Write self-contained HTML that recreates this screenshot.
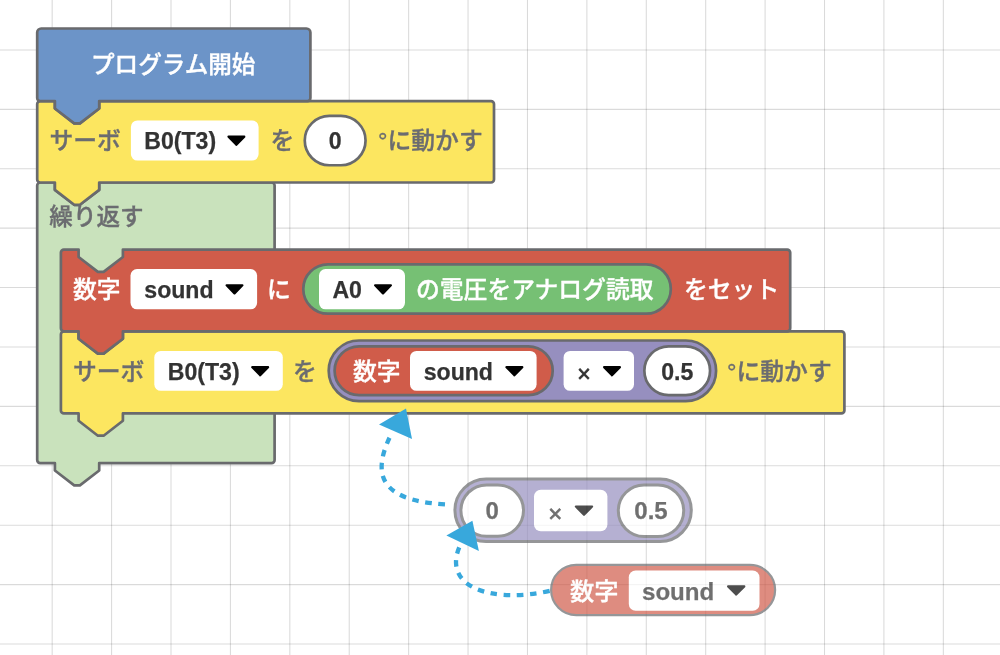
<!DOCTYPE html>
<html lang="ja"><head><meta charset="utf-8"><title>blocks</title>
<style>
html,body{margin:0;padding:0;background:#fff;}
body{width:1000px;height:655px;overflow:hidden;}
svg{display:block;font-family:"Liberation Sans","Noto Sans CJK JP",sans-serif;will-change:transform;opacity:0.9999;}
</style></head><body>
<svg width="1000" height="655" viewBox="0 0 1000 655">
<g stroke="#000" stroke-opacity="0.15" stroke-width="1.1">
<line x1="52.18" y1="0" x2="52.18" y2="655"/>
<line x1="111.59" y1="0" x2="111.59" y2="655"/>
<line x1="171.00" y1="0" x2="171.00" y2="655"/>
<line x1="230.41" y1="0" x2="230.41" y2="655"/>
<line x1="289.82" y1="0" x2="289.82" y2="655"/>
<line x1="349.23" y1="0" x2="349.23" y2="655"/>
<line x1="408.64" y1="0" x2="408.64" y2="655"/>
<line x1="468.05" y1="0" x2="468.05" y2="655"/>
<line x1="527.46" y1="0" x2="527.46" y2="655"/>
<line x1="586.87" y1="0" x2="586.87" y2="655"/>
<line x1="646.28" y1="0" x2="646.28" y2="655"/>
<line x1="705.69" y1="0" x2="705.69" y2="655"/>
<line x1="765.10" y1="0" x2="765.10" y2="655"/>
<line x1="824.51" y1="0" x2="824.51" y2="655"/>
<line x1="883.92" y1="0" x2="883.92" y2="655"/>
<line x1="943.33" y1="0" x2="943.33" y2="655"/>
<line x1="0" y1="49.93" x2="1000" y2="49.93"/>
<line x1="0" y1="109.34" x2="1000" y2="109.34"/>
<line x1="0" y1="168.75" x2="1000" y2="168.75"/>
<line x1="0" y1="228.16" x2="1000" y2="228.16"/>
<line x1="0" y1="287.57" x2="1000" y2="287.57"/>
<line x1="0" y1="346.98" x2="1000" y2="346.98"/>
<line x1="0" y1="406.39" x2="1000" y2="406.39"/>
<line x1="0" y1="465.80" x2="1000" y2="465.80"/>
<line x1="0" y1="525.21" x2="1000" y2="525.21"/>
<line x1="0" y1="584.62" x2="1000" y2="584.62"/>
<line x1="0" y1="644.03" x2="1000" y2="644.03"/>
</g>
<path d="M40.2 182.5 H54.900000000000006 V189.9 L74.2 204.8 H79.9 L99.2 189.9 V182.5 H271.6 A3 3 0 0 1 274.6 185.5 V460.1 A3 3 0 0 1 271.6 463.1 H99.2 V470.5 L79.9 485.40000000000003 H74.2 L54.900000000000006 470.5 V463.1 H40.2 A3 3 0 0 1 37.2 460.1 V185.5 A3 3 0 0 1 40.2 182.5 Z" fill="#c9e2bc" stroke="#696a6d" stroke-width="2.7" stroke-linejoin="round" />
<text x="49.3" y="224.8" font-size="23.6" font-weight="500" fill="#6b6c70" stroke="#6b6c70" stroke-width="0.35" stroke-linejoin="round" text-anchor="start" >繰り返す</text>
<path d="M40.2 101.1 H54.900000000000006 V108.5 L74.2 123.39999999999999 H79.9 L99.2 108.5 V101.1 H491 A3 3 0 0 1 494 104.1 V179.5 A3 3 0 0 1 491 182.5 H99.2 V189.9 L79.9 204.8 H74.2 L54.900000000000006 189.9 V182.5 H40.2 A3 3 0 0 1 37.2 179.5 V104.1 A3 3 0 0 1 40.2 101.1 Z" fill="#fce660" stroke="#696a6d" stroke-width="2.7" stroke-linejoin="round" />
<path d="M41.2 28.5 H306.4 A4 4 0 0 1 310.4 32.5 V98.1 A3 3 0 0 1 307.4 101.1 H99.2 V108.5 L79.9 123.39999999999999 H74.2 L54.900000000000006 108.5 V101.1 H40.2 A3 3 0 0 1 37.2 98.1 V32.5 A4 4 0 0 1 41.2 28.5 Z" fill="#6c94c8" stroke="#696a6d" stroke-width="2.7" stroke-linejoin="round" />
<text x="173.2" y="73.2" font-size="23.6" font-weight="500" fill="#fff" stroke="#fff" stroke-width="0.35" stroke-linejoin="round" text-anchor="middle" >プログラム開始</text>
<text x="49.5" y="149.3" font-size="23.8" font-weight="500" fill="#6b6c70" stroke="#6b6c70" stroke-width="0.35" stroke-linejoin="round" text-anchor="start" >サーボ</text>
<rect x="130.9" y="120.4" width="127.70000000000002" height="40.19999999999999" rx="6.5" ry="6.5" fill="#fff"  />
<text x="144.3" y="149.4" font-size="23.1" font-weight="700" fill="#333333" text-anchor="start"  stroke="#333333" stroke-width="0.25">B0(T3)</text>
<path d="M228.50 136.65 H244.30 L236.40 144.85 Z" fill="#000" stroke="#000" stroke-width="2.2" stroke-linejoin="round"/>
<text x="270.5" y="149.3" font-size="23.8" font-weight="500" fill="#6b6c70" stroke="#6b6c70" stroke-width="0.35" stroke-linejoin="round" text-anchor="start" >を</text>
<rect x="304.75" y="115.94999999999999" width="60.799999999999955" height="49.30000000000001" rx="24.65" ry="24.65" fill="#fff" stroke="#696a6d" stroke-width="2.7" />
<text x="335.15" y="149.4" font-size="23.1" font-weight="700" fill="#333333" text-anchor="middle"  stroke="#333333" stroke-width="0.25">0</text>
<text x="378" y="149.3" font-size="23.8" font-weight="500" fill="#6b6c70" stroke="#6b6c70" stroke-width="0.35" stroke-linejoin="round" text-anchor="start" >°に動かす</text>
<path d="M63.9 331.3 H78.6 V338.7 L97.89999999999999 353.6 H103.60000000000001 L122.9 338.7 V331.3 H841.4 A3 3 0 0 1 844.4 334.3 V410.4 A3 3 0 0 1 841.4 413.4 H122.9 V420.79999999999995 L103.60000000000001 435.7 H97.89999999999999 L78.6 420.79999999999995 V413.4 H63.9 A3 3 0 0 1 60.9 410.4 V334.3 A3 3 0 0 1 63.9 331.3 Z" fill="#fce660" stroke="#696a6d" stroke-width="2.7" stroke-linejoin="round" />
<path d="M63.9 249.6 H78.6 V257.0 L97.89999999999999 271.9 H103.60000000000001 L122.9 257.0 V249.6 H787.2 A3 3 0 0 1 790.2 252.6 V328.3 A3 3 0 0 1 787.2 331.3 H122.9 V338.7 L103.60000000000001 353.6 H97.89999999999999 L78.6 338.7 V331.3 H63.9 A3 3 0 0 1 60.9 328.3 V252.6 A3 3 0 0 1 63.9 249.6 Z" fill="#d05c4a" stroke="#696a6d" stroke-width="2.7" stroke-linejoin="round" />
<text x="73" y="298" font-size="23.8" font-weight="500" fill="#fff" stroke="#fff" stroke-width="0.35" stroke-linejoin="round" text-anchor="start" >数字</text>
<rect x="130.5" y="269" width="126.60000000000002" height="40.30000000000001" rx="6.5" ry="6.5" fill="#fff"  />
<text x="144.3" y="298" font-size="23.1" font-weight="700" fill="#333333" text-anchor="start"  stroke="#333333" stroke-width="0.25">sound</text>
<path d="M226.60 285.25 H242.40 L234.50 293.45 Z" fill="#000" stroke="#000" stroke-width="2.2" stroke-linejoin="round"/>
<text x="267" y="298" font-size="23.8" font-weight="500" fill="#fff" stroke="#fff" stroke-width="0.35" stroke-linejoin="round" text-anchor="start" >に</text>
<rect x="303.3" y="264.3" width="367.49999999999994" height="49.39999999999998" rx="24.7" ry="24.7" fill="#76c074" stroke="#696a6d" stroke-width="2.7" />
<rect x="319" y="269" width="86" height="40.30000000000001" rx="6.5" ry="6.5" fill="#fff"  />
<text x="332.4" y="298" font-size="23.1" font-weight="700" fill="#333333" text-anchor="start"  stroke="#333333" stroke-width="0.25">A0</text>
<path d="M375.10 285.25 H390.90 L383.00 293.45 Z" fill="#000" stroke="#000" stroke-width="2.2" stroke-linejoin="round"/>
<text x="416" y="298" font-size="23.8" font-weight="500" fill="#fff" stroke="#fff" stroke-width="0.35" stroke-linejoin="round" text-anchor="start" >の電圧をアナログ読取</text>
<text x="684" y="298" font-size="23.8" font-weight="500" fill="#fff" stroke="#fff" stroke-width="0.35" stroke-linejoin="round" text-anchor="start" >をセット</text>
<text x="73" y="380" font-size="23.8" font-weight="500" fill="#6b6c70" stroke="#6b6c70" stroke-width="0.35" stroke-linejoin="round" text-anchor="start" >サーボ</text>
<rect x="154.3" y="350.9" width="128.5" height="39.900000000000034" rx="6.5" ry="6.5" fill="#fff"  />
<text x="167.8" y="379.9" font-size="23.1" font-weight="700" fill="#333333" text-anchor="start"  stroke="#333333" stroke-width="0.25">B0(T3)</text>
<path d="M252.30 367.15 H268.10 L260.20 375.35 Z" fill="#000" stroke="#000" stroke-width="2.2" stroke-linejoin="round"/>
<text x="293" y="380" font-size="23.8" font-weight="500" fill="#6b6c70" stroke="#6b6c70" stroke-width="0.35" stroke-linejoin="round" text-anchor="start" >を</text>
<rect x="328.7" y="340.5" width="387.40000000000003" height="60.69999999999999" rx="30.35" ry="30.35" fill="#968fbf" stroke="#696a6d" stroke-width="2.7" />
<rect x="334.6" y="346.4" width="218.10000000000002" height="48.80000000000001" rx="24.4" ry="24.4" fill="#d05c4a" stroke="#696a6d" stroke-width="2.7" />
<text x="353" y="380" font-size="23.8" font-weight="500" fill="#fff" stroke="#fff" stroke-width="0.35" stroke-linejoin="round" text-anchor="start" >数字</text>
<rect x="410" y="350.9" width="126.60000000000002" height="39.900000000000034" rx="6.5" ry="6.5" fill="#fff"  />
<text x="423.7" y="379.9" font-size="23.1" font-weight="700" fill="#333333" text-anchor="start"  stroke="#333333" stroke-width="0.25">sound</text>
<path d="M506.50 367.15 H522.30 L514.40 375.35 Z" fill="#000" stroke="#000" stroke-width="2.2" stroke-linejoin="round"/>
<rect x="563.6" y="350.9" width="70.39999999999998" height="39.900000000000034" rx="6.5" ry="6.5" fill="#fff"  />
<text x="584.1" y="382.43119999999993" font-size="23.1" font-weight="400" fill="#333333" text-anchor="middle" stroke="#333333" stroke-width="0.7">×</text>
<path d="M604.10 367.15 H619.90 L612.00 375.35 Z" fill="#000" stroke="#000" stroke-width="2.2" stroke-linejoin="round"/>
<rect x="644.35" y="346.45000000000005" width="65.69999999999993" height="48.59999999999991" rx="24.299999999999976" ry="24.299999999999976" fill="#fff" stroke="#696a6d" stroke-width="2.7" />
<text x="677.2" y="379.55" font-size="23.1" font-weight="700" fill="#333333" text-anchor="middle"  stroke="#333333" stroke-width="0.25">0.5</text>
<text x="727" y="380" font-size="23.8" font-weight="500" fill="#6b6c70" stroke="#6b6c70" stroke-width="0.35" stroke-linejoin="round" text-anchor="start" >°に動かす</text>
<g opacity="0.7">
<rect x="454.9" y="479.1" width="236.39999999999998" height="62.39999999999998" rx="31.2" ry="31.2" fill="#968fbf" stroke="#696a6d" stroke-width="3" />
<rect x="460.9" y="484.9" width="62.60000000000002" height="51.39999999999998" rx="25.69999999999999" ry="25.69999999999999" fill="#fff" stroke="#696a6d" stroke-width="3" />
<text x="492.2" y="519" font-size="24" font-weight="700" fill="#333333" text-anchor="middle"  stroke="#333333" stroke-width="0.25">0</text>
<rect x="534" y="489.8" width="73.39999999999998" height="41.400000000000034" rx="6.8" ry="6.8" fill="#fff"  />
<text x="555.2" y="521.648" font-size="24" font-weight="400" fill="#333333" text-anchor="middle" stroke="#333333" stroke-width="0.7">×</text>
<path d="M575.90 506.60 H592.10 L584.00 514.80 Z" fill="#000" stroke="#000" stroke-width="2.2" stroke-linejoin="round"/>
<rect x="618.3" y="485.0" width="65.40000000000009" height="51.5" rx="25.75" ry="25.75" fill="#fff" stroke="#696a6d" stroke-width="3" />
<text x="651.0" y="519" font-size="24" font-weight="700" fill="#333333" text-anchor="middle"  stroke="#333333" stroke-width="0.25">0.5</text>
</g>
<g opacity="0.7">
<rect x="551.1" y="564.9" width="224.0" height="50.200000000000045" rx="25.1" ry="25.1" fill="#d05c4a" stroke="#696a6d" stroke-width="2.2" />
<text x="570" y="599.6" font-size="24.3" font-weight="500" fill="#fff" stroke="#fff" stroke-width="0.35" stroke-linejoin="round" text-anchor="start" >数字</text>
<rect x="628.8" y="570.5" width="130.70000000000005" height="40.299999999999955" rx="6.8" ry="6.8" fill="#fff"  />
<text x="642" y="600" font-size="24.1" font-weight="700" fill="#333333" text-anchor="start"  stroke="#333333" stroke-width="0.25">sound</text>
<path d="M728.10 586.40 H744.30 L736.20 594.60 Z" fill="#000" stroke="#000" stroke-width="2.2" stroke-linejoin="round"/>
</g>
<g fill="none" stroke="#38a8dc" stroke-width="4.3" stroke-dasharray="6.6 6.6">
<path d="M445 504.4 C 374.1 500.2, 373.5 469.9, 391.5 433.5"/>
<path d="M549.7 590.9 C 488.9 604.3, 439 585.8, 461.5 542.5"/>
</g>
<g fill="#38a8dc">
<path d="M406 408.5 L379 424.5 L412 439 Z"/>
<path d="M472.4 520.7 L446.4 535.6 L478.9 550.9 Z"/>
</g>
</svg></body></html>
